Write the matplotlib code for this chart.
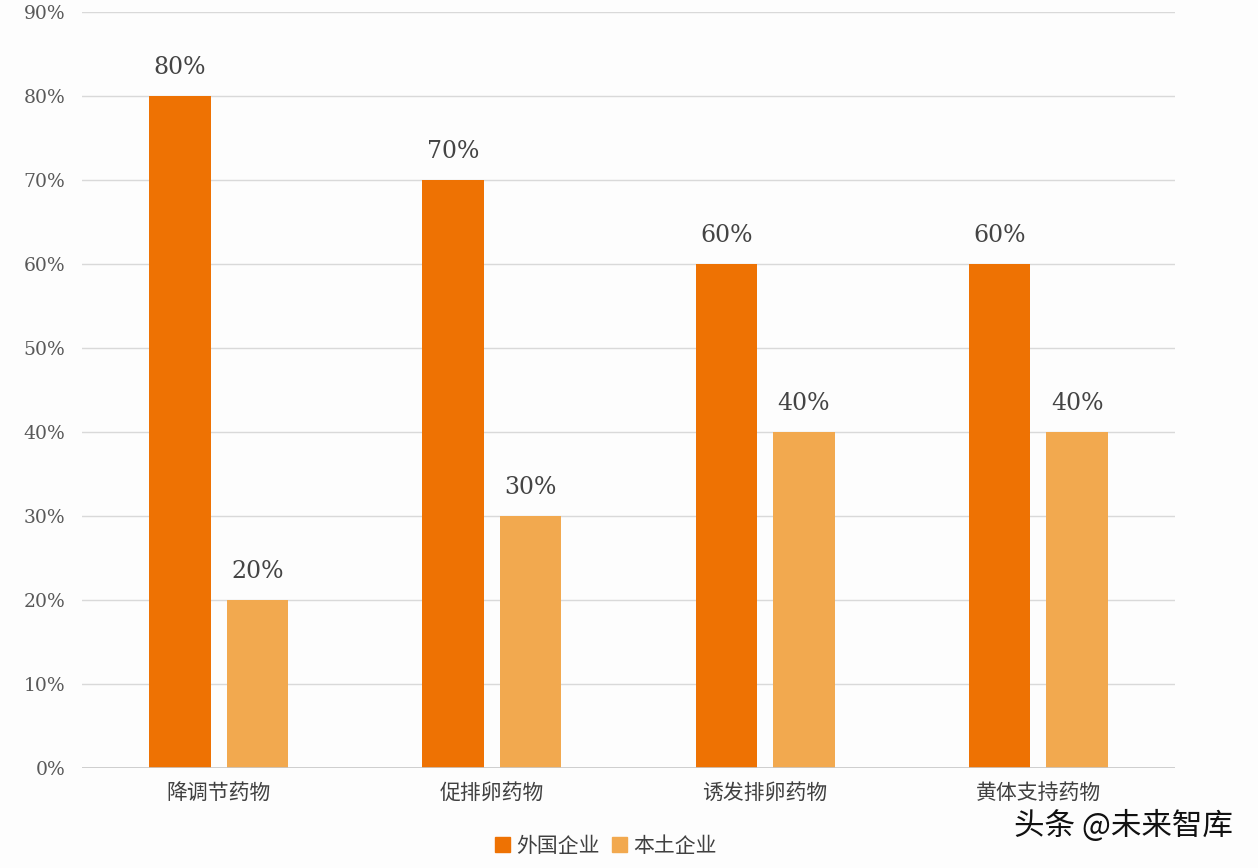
import matplotlib
matplotlib.use("Agg")
import matplotlib.pyplot as plt
import numpy as np
from matplotlib.patches import Rectangle

categories = ["降调节药物", "促排卵药物", "诱发排卵药物", "黄体支持药物"]
foreign = [80, 70, 60, 60]
domestic = [20, 30, 40, 40]
series_names = ["外国企业", "本土企业"]
yticks = [0, 10, 20, 30, 40, 50, 60, 70, 80, 90]

c_dark = "#EE7203"
c_light = "#F2A94F"

fig = plt.figure(figsize=(12.58, 8.68), dpi=100, facecolor="#FDFDFD")
ax = fig.add_axes([82/1258, 1-768/868, (1175-82)/1258, (768-12)/868])
ax.set_facecolor("#FDFDFD")

x = np.arange(len(categories))
w = 0.225
off = 0.142
b1 = ax.bar(x - off, foreign, w, color=c_dark, zorder=3)
b2 = ax.bar(x + off, domestic, w, color=c_light, zorder=3)

for bars, vals in ((b1, foreign), (b2, domestic)):
    for r, v in zip(bars, vals):
        ax.annotate(f"{v}%", (r.get_x() + r.get_width()/2, v), xytext=(0, 12),
                    textcoords="offset points", ha="center", va="bottom",
                    fontsize=17, color="#444444", family="DejaVu Serif")

ax.set_xlim(-0.5, 3.5)
ax.set_ylim(0, 90)
ax.set_yticks(yticks)
ax.set_yticklabels([f"{t}%" for t in yticks], family="DejaVu Serif", fontsize=13.5, color="#595959")
ax.set_xticks(x)
ax.set_xticklabels(categories, family=["Noto Sans CJK SC", "DejaVu Sans"], fontsize=15, color="#404040")
ax.tick_params(axis="both", length=0)
ax.tick_params(axis="y", pad=12)
ax.tick_params(axis="x", pad=10)
ax.grid(axis="y", color="#D9D9D9", linewidth=1, zorder=0)
for s in ax.spines.values():
    s.set_visible(False)
ax.axhline(0, color="#C8C8C8", linewidth=1.2, zorder=4)

# legend
handles = [Rectangle((0, 0), 1, 1, color=c_dark), Rectangle((0, 0), 1, 1, color=c_light)]
fig.legend(handles, series_names, loc="center", bbox_to_anchor=(606/1258, 1-846/868),
           ncol=2, frameon=False, handlelength=0.7, handleheight=0.7, handletextpad=0.3,
           columnspacing=0.6, prop={"family": ["Noto Sans CJK SC", "DejaVu Sans"], "size": 15},
           labelcolor="#404040")

fig.text(1233/1258, 1-826/868, "头条 @未来智库", ha="right", va="center", fontsize=22,
         family=["Noto Sans CJK SC", "DejaVu Sans"], color="#111111")

fig.savefig("out.png", dpi=100, facecolor=fig.get_facecolor())
